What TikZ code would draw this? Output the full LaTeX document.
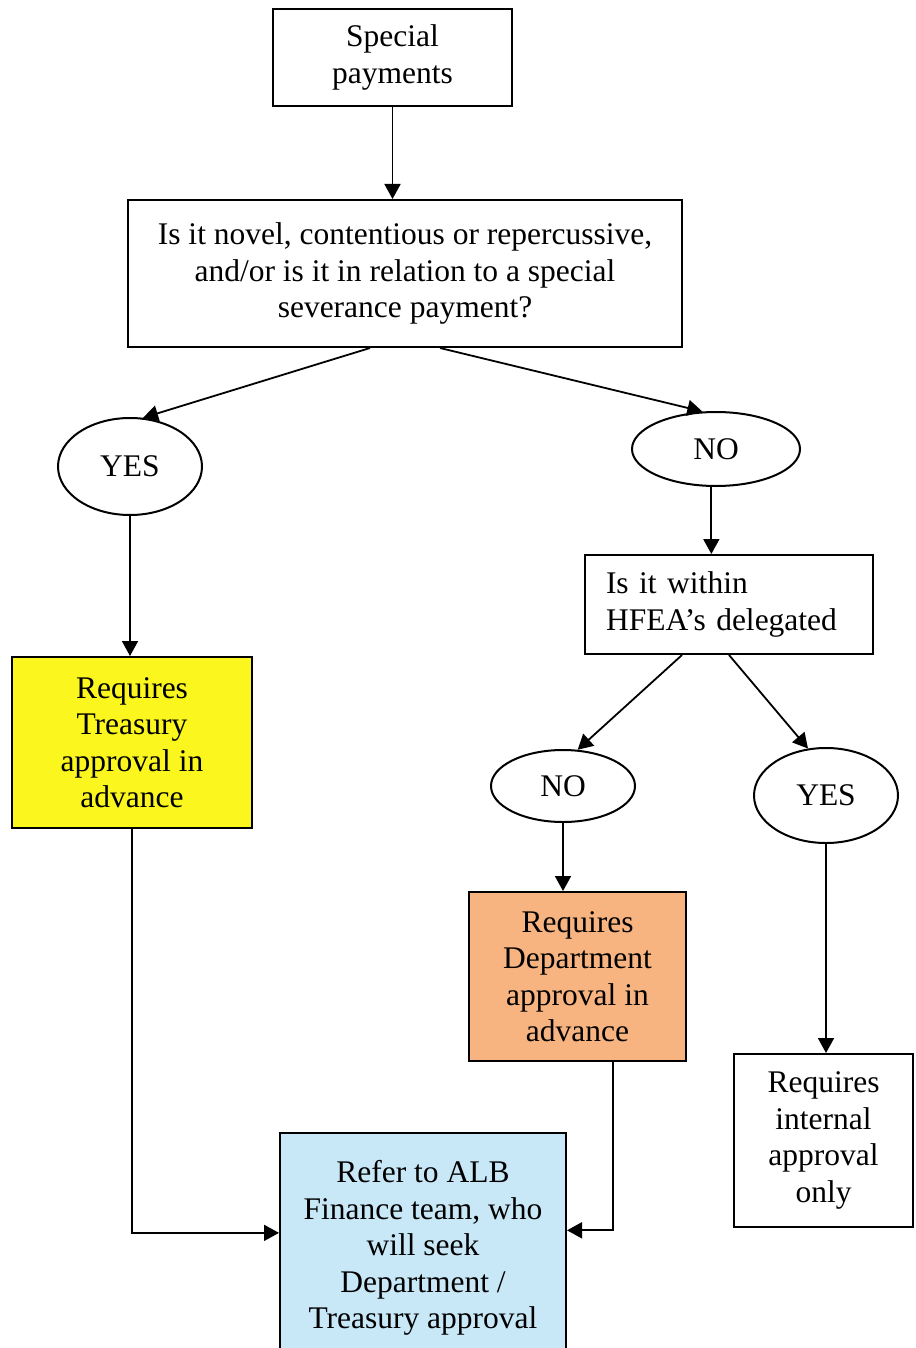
\documentclass[tikz,border=0pt]{standalone}
\usepackage{fontspec}
\setmainfont{Liberation Serif}
\usetikzlibrary{shapes,arrows,positioning,calc,arrows.meta}

\definecolor{treasuryyellow}{RGB}{250,246,30}
\definecolor{deptorange}{RGB}{247,180,128}
\definecolor{albblue}{RGB}{200,231,247}

\tikzset{
    box/.style={draw, line width=2pt, rectangle, inner sep=0pt, align=center,
        font=\fontsize{31.5}{36.5}\selectfont},
    choice/.style={draw, line width=2pt, ellipse, inner sep=0pt,
        font=\fontsize{31.5}{36.5}\selectfont},
    arrow/.style={line width=1.8pt, -{Triangle[length=15pt,width=16pt]}}
}

\begin{document}
\begin{tikzpicture}[x=1pt, y=-1pt]
    \useasboundingbox (0,0) rectangle (915,1348);

    % Start
    \node [box, minimum width=239, minimum height=97] (special) at (392.5,57.5) {Special\\payments};

    % First question
    \node [box, minimum width=554, minimum height=147] (question) at (405,273.5)
        {Is it novel, contentious or repercussive,\\and/or is it in relation to a special\\severance payment?};

    % Answers
    \node [choice, minimum width=144, minimum height=97] (yes1) at (130,466.5) {YES};
    \node [choice, minimum width=168, minimum height=74] (no1) at (716,449) {NO};

    % Treasury (yes branch)
    \node [box, fill=treasuryyellow, minimum width=240, minimum height=171] (treasury) at (132,742.5)
        {Requires\\Treasury\\approval in\\advance};

    % Second question
    \node [box, minimum width=288, minimum height=99, text width=246, align=left] (hfea) at (729,604.5)
        {Is it within\\HFEA's delegated};

    \node [choice, minimum width=144, minimum height=72] (no2) at (563,786) {NO};
    \node [choice, minimum width=144, minimum height=95] (yes2) at (826,795.5) {YES};

    % Outcomes
    \node [box, fill=deptorange, minimum width=217, minimum height=169] (dept) at (577.5,976.5)
        {Requires\\Department\\approval in\\advance};
    \node [box, minimum width=179, minimum height=173] (internal) at (823.5,1140.5)
        {Requires\\internal\\approval\\only};
    \node [box, fill=albblue, minimum width=286, minimum height=230] (alb) at (423,1248)
        {Refer to ALB\\Finance team, who\\will seek\\Department /\\Treasury approval};

    % Connectors
    \draw [arrow] (special.south) -- (special.south |- question.north);
    \draw [arrow] ($(question.south)+(-35,0)$) -- (yes1.75);
    \draw [arrow] ($(question.south)+(35,0)$) -- (no1.110);
    \draw [arrow] (yes1.south) -- (yes1.south |- treasury.north);
    \draw [arrow] (no1.263) -- (no1.263 |- hfea.north);
    \draw [arrow] ($(hfea.south)+(-47,0)$) -- (no2.68);
    \draw [arrow] (hfea.south) -- (yes2.111);
    \draw [arrow] (no2.south) -- (no2.south |- dept.north);
    \draw [arrow] (yes2.south) -- (yes2.south |- internal.north);
    \draw [arrow] (treasury.south) |- (alb.174);
    \draw [arrow] ($(dept.south)+(35.5,0)$) |- (alb.7);
\end{tikzpicture}
\end{document}
